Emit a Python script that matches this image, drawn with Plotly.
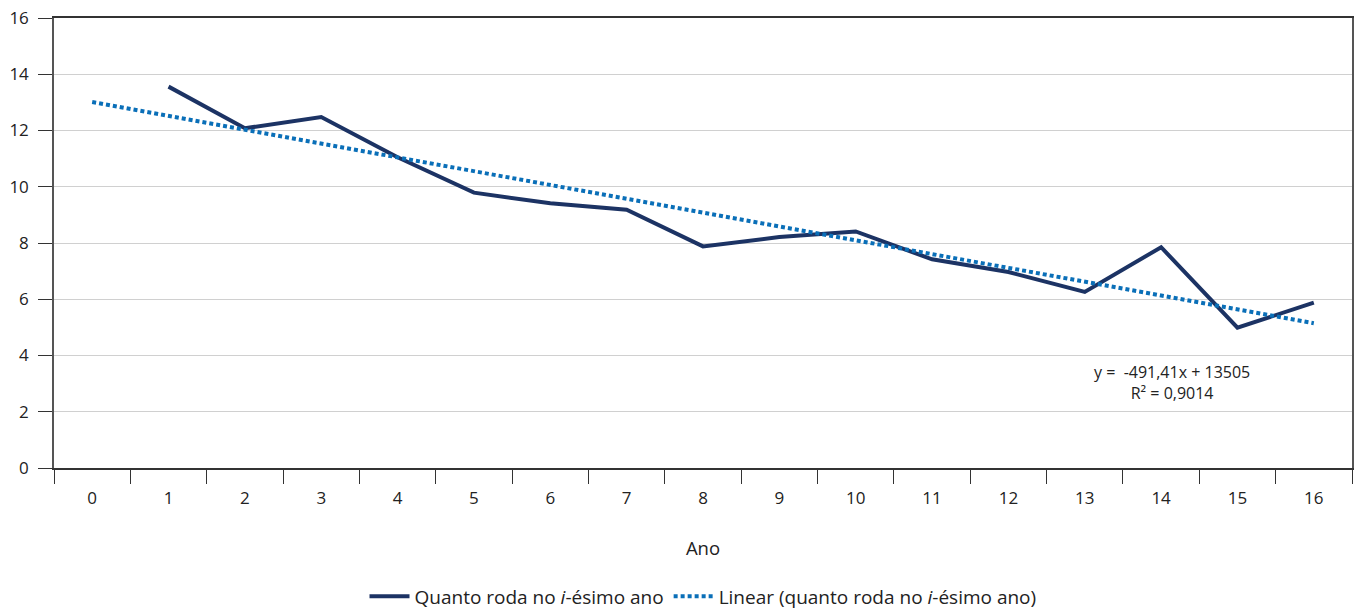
import plotly.graph_objects as go

categories = [str(i) for i in range(17)]
years = [str(i) for i in range(1, 17)]
values = [13.56, 12.08, 12.48, 11.05, 9.79, 9.41, 9.18, 7.88, 8.21, 8.41,
          7.42, 6.97, 6.26, 7.85, 4.99, 5.88]
trend_x = ["0", "16"]
trend_y = [13.01, 5.15]

series_name = "Quanto roda no <i>i</i>-ésimo ano"
trend_name = "Linear (quanto roda no <i>i</i>-ésimo ano)"
equation_text = "y =  -491,41x + 13505<br>R² = 0,9014"

font_family = "Open Sans, Noto Sans, sans-serif"

fig = go.Figure()
fig.add_trace(go.Scatter(
    x=years, y=values, mode="lines", name=series_name,
    line=dict(color="#1c3364", width=4),
))
fig.add_trace(go.Scatter(
    x=trend_x, y=trend_y, mode="lines", name=trend_name,
    line=dict(color="#0a6fb8", width=4, dash="4px,3px"),
))

fig.add_annotation(
    x=14.14, y=3.05, xref="x", yref="y", text=equation_text, showarrow=False,
    font=dict(size=16, color="#222", family=font_family), align="center",
)

fig.update_layout(
    width=1354, height=609,
    margin=dict(l=54, r=2, t=18, b=141, autoexpand=False),
    plot_bgcolor="white", paper_bgcolor="white",
    font=dict(family=font_family, size=17, color="#222"),
    showlegend=True,
    legend=dict(orientation="h", x=0.5, xanchor="center", y=-0.243, yanchor="top",
                font=dict(size=19, color="#222"), itemwidth=40, tracegroupgap=0),
    xaxis=dict(
        type="category", categoryorder="array", categoryarray=categories,
        range=[-0.5, 16.5], tickson="boundaries", ticks="outside", ticklen=14,
        tickcolor="#333", tickwidth=1, showline=True, linecolor="#333", linewidth=1.5,
        mirror=True, showgrid=False, tickfont=dict(size=17), automargin=False,
        ticklabelstandoff=14,
        title=dict(text="Ano", font=dict(size=18.5), standoff=34),
    ),
    yaxis=dict(
        range=[0, 16], tickvals=list(range(0, 17, 2)), ticks="outside", ticklen=14,
        tickcolor="#333", showline=True, linecolor="#555", linewidth=1.5, mirror=True,
        showgrid=True, gridcolor="#d0d0d0", gridwidth=1, zeroline=False,
        tickfont=dict(size=17), automargin=False, ticklabelstandoff=6,
    ),
)

fig.write_html(
    "out.html",
    config={"displayModeBar": False},
    post_script="document.body.style.margin='0';document.body.style.overflow='hidden';",
)
